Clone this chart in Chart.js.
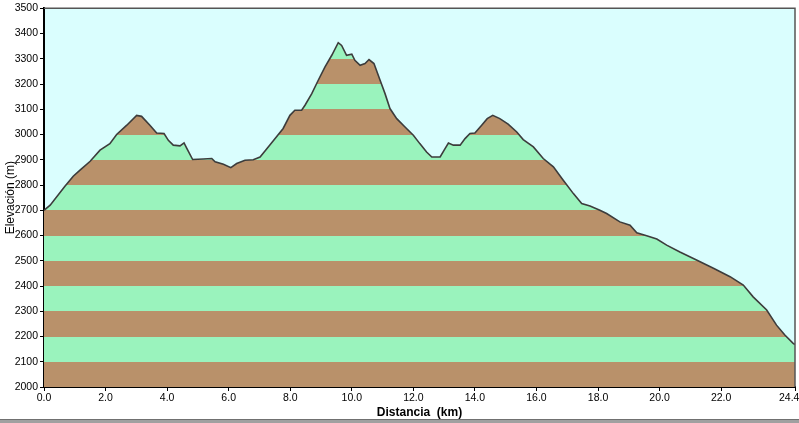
<!DOCTYPE html>
<html>
<head>
<meta charset="utf-8">
<script src="https://cdn.jsdelivr.net/npm/chart.js@4/dist/chart.umd.min.js"></script>
<style>
	html, body { margin: 0; padding: 0; background: #fff; }
	#wrap { position: relative; width: 799px; height: 423px; }
	#bar { position: absolute; left: 0; top: 419px; width: 799px; height: 4px; background: #a0a0a0; border-top: 1px solid #707070; box-sizing: border-box; }
</style>
</head>
<body>
<div id="wrap">
	<canvas id="elevChart" width="799" height="423"></canvas>
	<div id="bar"></div>
</div>
<script>
// profile: distance (km) / elevation (m)
const distKm = [0, 0.2, 0.68, 0.95, 1.17, 1.5, 1.82, 2.14, 2.36, 2.69, 3.01, 3.17, 3.44, 3.66, 3.9, 4.04, 4.2, 4.42, 4.55, 4.64, 4.83,
	5.18, 5.45, 5.56, 5.83, 6.07, 6.26, 6.53, 6.8, 7.02, 7.18, 7.45, 7.77, 7.99, 8.15, 8.37, 8.48, 8.7, 8.91, 9.13, 9.35, 9.56,
	9.67, 9.83, 10.0, 10.1, 10.27, 10.43, 10.56, 10.72, 10.92, 11.08, 11.24, 11.46, 11.73, 12.0, 12.21, 12.43, 12.6, 12.87,
	13.03, 13.14, 13.3, 13.52, 13.68, 13.84, 14.0, 14.22, 14.4, 14.58, 14.81, 15.08, 15.36, 15.57, 15.9, 16.22, 16.55, 16.87,
	17.2, 17.47, 17.74, 18.06, 18.28, 18.71, 19.04, 19.26, 19.58, 19.91, 20.23, 20.66, 21.2, 21.75, 22.29, 22.72, 23.04,
	23.48, 23.8, 24.07, 24.34, 24.4];
const elevM = [2700, 2720, 2795, 2835, 2859, 2894, 2938, 2964, 3000, 3037, 3076, 3072, 3037, 3006, 3004, 2977, 2958, 2955, 2967, 2945, 2901,
	2903, 2905, 2892, 2882, 2869, 2885, 2898, 2900, 2911, 2935, 2975, 3024, 3076, 3096, 3096, 3116, 3162, 3215, 3268, 3314, 3364,
	3353, 3314, 3318, 3294, 3274, 3281, 3297, 3281, 3215, 3162, 3103, 3063, 3030, 2997, 2964, 2931, 2911, 2911,
	2944, 2966, 2958, 2958, 2984, 3004, 3006, 3037, 3063, 3076, 3063, 3041, 3010, 2980, 2951, 2905, 2872, 2819,
	2766, 2727, 2717, 2700, 2687, 2654, 2641, 2611, 2599, 2586, 2562, 2535, 2503, 2470, 2437, 2404, 2357,
	2305, 2245, 2206, 2173, 2168];
const xTicks = [0, 2, 4, 6, 8, 10, 12, 14, 16, 18, 20, 22, 24.4];
const yMin = 2000, yMax = 3500, yStep = 100;

const brown = '#b9916a';
const green = '#9af3bd';

function bandFill(context) {
	let chart = context.chart;
	let area = chart.chartArea;
	if (!area) return brown;
	let y = chart.scales.y;
	let ctx = chart.ctx;
	let g = ctx.createLinearGradient(0, area.bottom, 0, area.top);
	let h = area.bottom - area.top;
	for (let v = yMin; v < yMax; v += yStep) {
		let c = ((v - yMin) / yStep) % 2 === 0 ? brown : green;
		let a = (area.bottom - y.getPixelForValue(v)) / h;
		let b = (area.bottom - y.getPixelForValue(v + yStep)) / h;
		g.addColorStop(Math.max(0, Math.min(1, a)), c);
		g.addColorStop(Math.max(0, Math.min(1, b)), c);
	}
	return g;
}

const plotFrame = {
	id: 'plotFrame',
	beforeDraw(chart) {
		let a = chart.chartArea;
		let ctx = chart.ctx;
		ctx.save();
		ctx.fillStyle = '#dafefe';
		ctx.fillRect(a.left, a.top, a.right - a.left, a.bottom - a.top);
		ctx.restore();
	},
	afterDraw(chart) {
		let a = chart.chartArea;
		let ctx = chart.ctx;
		ctx.save();
		ctx.strokeStyle = '#555';
		ctx.lineWidth = 1.5;
		ctx.beginPath();
		ctx.moveTo(a.left, a.top);
		ctx.lineTo(a.right, a.top);
		ctx.lineTo(a.right, a.bottom);
		ctx.stroke();
		ctx.restore();
	}
};

const tickFont = { family: 'Liberation Sans, Arial, sans-serif', size: 10.5 };

const ctx = document.getElementById('elevChart').getContext('2d');
const chart = new Chart(ctx, {
	type: 'line',
	data: {
		datasets: [{
			data: distKm.map((d, i) => ({ x: d, y: elevM[i] })),
			borderColor: '#3c3c3c',
			borderWidth: 1.6,
			pointRadius: 0,
			tension: 0,
			fill: 'start',
			backgroundColor: bandFill
		}]
	},
	plugins: [plotFrame],
	options: {
		responsive: false,
		animation: false,
		layout: { padding: { top: 8, right: 4, left: 0, bottom: 0 } },
		plugins: { legend: { display: false }, tooltip: { enabled: false } },
		scales: {
			x: {
				type: 'linear',
				min: 0,
				max: 24.4,
				afterBuildTicks: function (scale) { scale.ticks = xTicks.map(v => ({ value: v })); },
				afterFit: function (scale) {
					scale.height = 36;
					scale.paddingLeft = 0;
					scale.paddingRight = 0;
				},
				ticks: {
					autoSkip: false,
					maxRotation: 0,
					padding: 1,
					color: '#000',
					font: tickFont,
					// last label sits flush with the right edge
					callback: v => v === 24.4 ? '24.4    ' : Number(v).toFixed(1)
				},
				grid: { drawOnChartArea: false, tickLength: 4, color: '#000' },
				border: { display: true, color: '#000', width: 2 },
				title: {
					display: true,
					text: 'Distancia  (km)',
					color: '#000',
					font: { family: 'Liberation Sans, Arial, sans-serif', size: 12, weight: 'bold' },
					padding: { top: 0, bottom: 3 }
				}
			},
			y: {
				min: yMin,
				max: yMax,
				afterFit: function (scale) { scale.width = 44; },
				ticks: {
					stepSize: yStep,
					padding: 2,
					color: '#000',
					font: tickFont,
					callback: v => String(v)
				},
				grid: { drawOnChartArea: false, tickLength: 4, color: '#000' },
				border: { display: true, color: '#000', width: 2 },
				title: {
					display: true,
					text: 'Elevación (m)',
					color: '#000',
					font: { family: 'Liberation Sans, Arial, sans-serif', size: 12 },
					padding: { top: 3, bottom: 0 }
				}
			}
		}
	}
});
</script>
</body>
</html>
